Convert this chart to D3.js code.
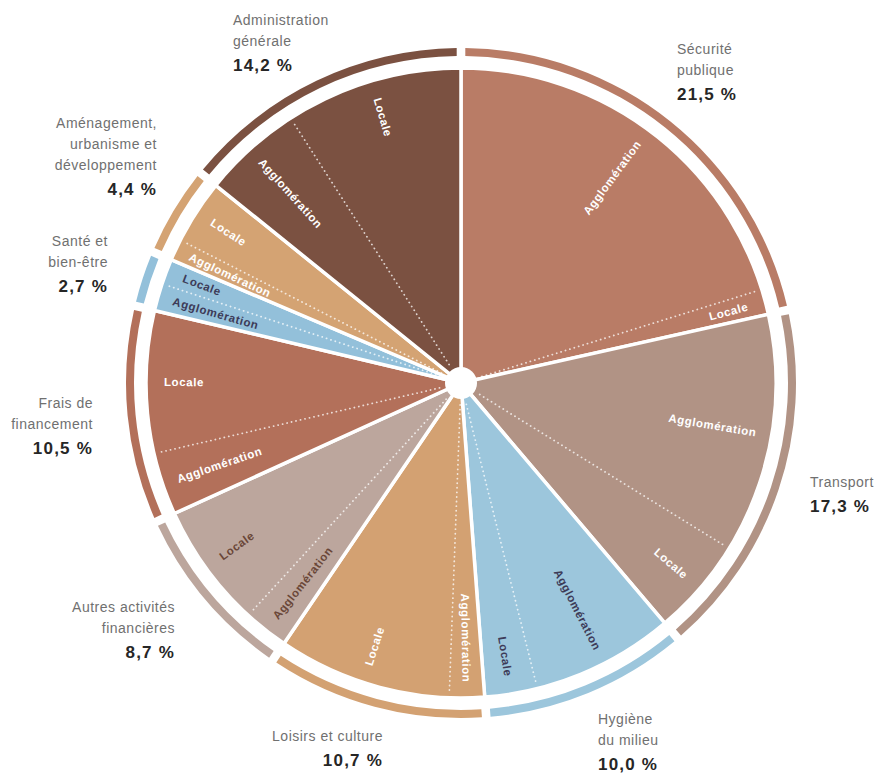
<!DOCTYPE html>
<html>
<head>
<meta charset="utf-8">
<script src="https://cdn.jsdelivr.net/npm/d3@7"></script>
<style>
  body { margin: 0; background: #fff; }
  svg { display: block; }
</style>
</head>
<body>
<svg id="chart" width="874" height="774"></svg>
<script>
// categories in clockwise order, starting at 12 o'clock
const categories = [
  "Sécurité publique", "Transport", "Hygiène du milieu", "Loisirs et culture",
  "Autres activités financières", "Frais de financement", "Santé et bien-être",
  "Aménagement, urbanisme et développement", "Administration générale"
];
const totals = [21.5, 17.3, 10.0, 10.7, 8.7, 10.5, 2.7, 4.4, 14.2];
// split of each total
const agglomeration = [20.2, 12.3, 7.3, 1.8, 2.3, 3.2, 1.4, 1.1, 5.1];
const locale = [1.3, 5.0, 2.7, 8.9, 6.4, 7.3, 1.3, 3.3, 9.1];
const nameLines = [
  ["Sécurité", "publique"], ["Transport"], ["Hygiène", "du milieu"], ["Loisirs et culture"],
  ["Autres activités", "financières"], ["Frais de", "financement"], ["Santé et", "bien-être"],
  ["Aménagement,", "urbanisme et", "développement"], ["Administration", "générale"]
];
const subNames = ["Agglomération", "Locale"];

const colors = ["#b97c66", "#b19385", "#9cc6dc", "#d3a172", "#bca69d",
                "#b3705a", "#93c0da", "#d4a373", "#7b5141"];
// text colour of the inner labels
const innerInk = ["#fff", "#fff", "#3d3b58", "#fff", "#6a4638", "#fff", "#3d3b58", "#fff", "#fff"];

// where the outside labels sit (annotation layout)
const labelLayout = [
  {x: 677, y: 54, anchor: "start"},
  {x: 810, y: 487, anchor: "start"},
  {x: 598, y: 724, anchor: "start"},
  {x: 383, y: 741, anchor: "end"},
  {x: 175, y: 612, anchor: "end"},
  {x: 93, y: 408, anchor: "end"},
  {x: 108, y: 246, anchor: "end"},
  {x: 157, y: 128, anchor: "end"},
  {x: 233, y: 25, anchor: "start"}
];

const cx = 461, cy = 383;
const R = 315;
const ringIn = 327, ringOut = 335;

const svg = d3.select("#chart");
const pane = svg.append("g").attr("transform", `translate(${cx},${cy})`);

const data = categories.map((c, i) => ({
  name: c, total: totals[i], parts: [agglomeration[i], locale[i]], i: i
}));

const pie = d3.pie().sort(null).value(d => d.total);
const slices = pie(data);

const arc = d3.arc().innerRadius(0).outerRadius(R);
const ringArc = d3.arc().innerRadius(ringIn).outerRadius(ringOut)
  .padAngle(0.026).padRadius((ringIn + ringOut) / 2);

const color = d3.scaleOrdinal().domain(categories).range(colors);

// main slices
pane.append("g")
  .selectAll("path")
  .data(slices)
  .enter()
  .append("path")
  .attr("d", arc)
  .attr("fill", d => color(d.data.name))
  .attr("stroke", "#fff")
  .attr("stroke-width", 3.5)
  .attr("stroke-linejoin", "round");

// outer ring
pane.append("g")
  .selectAll("path")
  .data(slices)
  .enter()
  .append("path")
  .attr("d", ringArc)
  .attr("fill", d => color(d.data.name));

// sub-sectors: agglomeration first (clockwise), then locale
const subs = [];
slices.forEach(s => {
  const sub = d3.pie().sort(null)
    .startAngle(s.startAngle).endAngle(s.endAngle)(s.data.parts);
  sub.forEach((p, k) => subs.push({
    start: p.startAngle, end: p.endAngle, kind: k, i: s.data.i
  }));
});

// dotted dividers between agglomeration and locale
pane.append("g")
  .selectAll("line")
  .data(subs.filter(d => d.kind === 0))
  .enter()
  .append("line")
  .attr("x1", d => 22 * Math.sin(d.end))
  .attr("y1", d => -22 * Math.cos(d.end))
  .attr("x2", d => (R - 4) * Math.sin(d.end))
  .attr("y2", d => -(R - 4) * Math.cos(d.end))
  .attr("stroke", "#fff")
  .attr("stroke-opacity", 0.75)
  .attr("stroke-width", 1.8)
  .attr("stroke-linecap", "round")
  .attr("stroke-dasharray", "0.1 4.5");

// inner labels, running along the radius
pane.append("g")
  .selectAll("text")
  .data(subs)
  .enter()
  .append("text")
  .attr("transform", d => {
    const a = (d.start + d.end) / 2;
    const r = d.kind === 0 ? 255 : 277;
    const deg = a * 180 / Math.PI;
    const rot = deg < 180 ? deg - 90 : deg + 90;
    return `translate(${r * Math.sin(a)},${-r * Math.cos(a)}) rotate(${rot})`;
  })
  .attr("text-anchor", "middle")
  .attr("dominant-baseline", "central")
  .attr("font-family", "Liberation Sans, Arial, sans-serif")
  .attr("font-weight", "bold")
  .attr("font-size", 11.5)
  .attr("letter-spacing", 0.6)
  .attr("fill", d => innerInk[d.i])
  .text(d => subNames[d.kind]);

// white hub
pane.append("circle").attr("r", 16).attr("fill", "#fff");

// outside labels
const labels = svg.append("g")
  .selectAll("g")
  .data(data)
  .enter()
  .append("g")
  .attr("text-anchor", d => labelLayout[d.i].anchor);

labels.each(function (d) {
  const g = d3.select(this);
  const pos = labelLayout[d.i];
  const lines = nameLines[d.i];
  lines.forEach((t, k) => {
    g.append("text")
      .attr("x", pos.x)
      .attr("y", pos.y + k * 21)
      .attr("font-family", "Liberation Sans, Arial, sans-serif")
      .attr("font-size", 14)
      .attr("letter-spacing", 0.5)
      .attr("fill", "#707070")
      .text(t);
  });
  g.append("text")
    .attr("x", pos.x)
    .attr("y", pos.y + (lines.length - 1) * 21 + 25)
    .attr("font-family", "Liberation Sans, Arial, sans-serif")
    .attr("font-weight", "bold")
    .attr("font-size", 17)
    .attr("letter-spacing", 1.2)
    .attr("fill", "#262626")
    .text(d3.format(".1f")(d.total).replace(".", ",") + " %");
});
</script>
</body>
</html>
